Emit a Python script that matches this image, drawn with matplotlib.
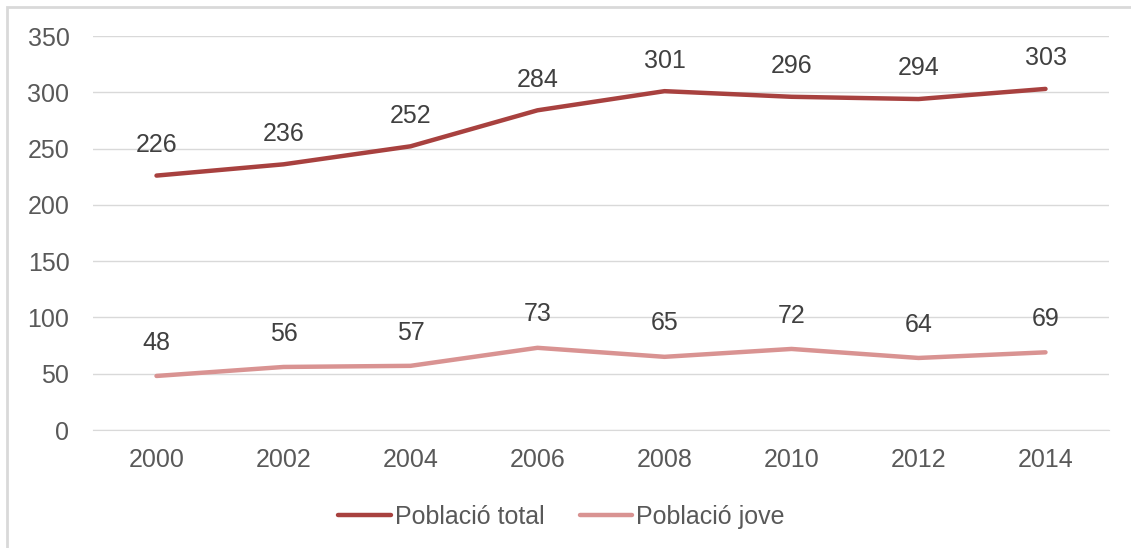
import matplotlib
matplotlib.use("Agg")
import matplotlib.pyplot as plt
from matplotlib.patches import Rectangle

years = ["2000", "2002", "2004", "2006", "2008", "2010", "2012", "2014"]
total = [226, 236, 252, 284, 301, 296, 294, 303]
jove = [48, 56, 57, 73, 65, 72, 64, 69]
series_names = ["Població total", "Població jove"]
yticks = [0, 50, 100, 150, 200, 250, 300, 350]

c_total = "#A8413F"
c_jove = "#D99392"
txt = "#404040"
tick_c = "#595959"

plt.rcParams['font.family'] = ['Liberation Sans', 'DejaVu Sans']

W, H = 1131, 548
fig = plt.figure(figsize=(W / 100, H / 100), dpi=100)
fig.patches.append(Rectangle((7 / W, -0.1), 1.2, 1 - 7 / H + 0.1, transform=fig.transFigure,
                             fill=False, edgecolor="#D9D9D9", linewidth=2))

ax = fig.add_axes([93 / W, 1 - 430 / H, (1109 - 93) / W, (430 - 36) / H])
x = list(range(len(years)))
ax.plot(x, total, color=c_total, linewidth=3.2, solid_capstyle="round", label=series_names[0])
ax.plot(x, jove, color=c_jove, linewidth=3.2, solid_capstyle="round", label=series_names[1])

fs = 18
for xi, v in zip(x, total):
    ax.annotate(str(v), (xi, v), xytext=(0, 22), textcoords="offset points",
                ha="center", va="center", fontsize=fs, color=txt)
for xi, v in zip(x, jove):
    ax.annotate(str(v), (xi, v), xytext=(0, 24), textcoords="offset points",
                ha="center", va="center", fontsize=fs, color=txt)

ax.set_xlim(-0.5, len(years) - 0.5)
ax.set_ylim(0, 350)
ax.set_yticks(yticks)
ax.set_xticks(x)
ax.set_xticklabels(years)
ax.grid(axis="y", color="#D9D9D9", linewidth=1)
ax.set_axisbelow(True)
for s in ["top", "right", "left"]:
    ax.spines[s].set_visible(False)
ax.spines["bottom"].set_color("#D9D9D9")
ax.tick_params(axis="both", length=0, labelsize=fs, labelcolor=tick_c)
ax.tick_params(axis="y", pad=17)
ax.tick_params(axis="x", pad=13)

leg = fig.legend(*ax.get_legend_handles_labels(), loc="center",
                 bbox_to_anchor=(561.5 / W, 1 - 517 / H), ncol=2, frameon=False,
                 fontsize=fs, handlelength=2.1, handletextpad=0.16, columnspacing=1.4,
                 labelcolor=tick_c)

fig.savefig("out.png", dpi=100)
